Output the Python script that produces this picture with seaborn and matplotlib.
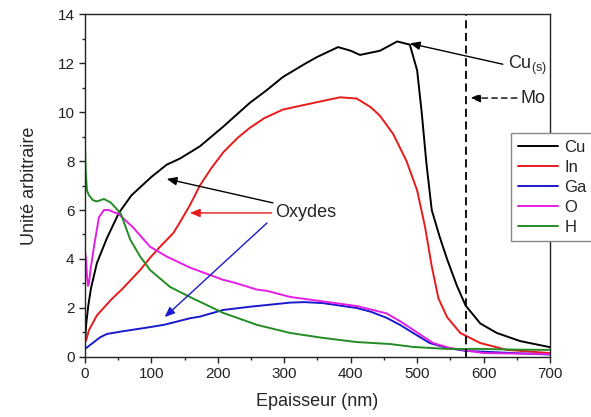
import matplotlib
matplotlib.use("Agg")
import matplotlib.pyplot as plt
import numpy as np
import pandas as pd
import seaborn as sns

# ---------------- data ----------------
cu_x = [0, 2, 5, 9, 18, 33, 51, 70, 90, 100, 123, 143, 173, 208, 248, 274, 298, 330, 349,
        381, 400, 414, 444, 470, 489, 500, 507, 514, 522, 534, 545, 560, 573, 595, 620, 655, 700]
cu_y = [0.6, 1.4, 2.1, 2.8, 3.84, 4.85, 5.88, 6.6, 7.1, 7.35, 7.85, 8.1, 8.6, 9.4, 10.37, 10.9,
        11.43, 11.95, 12.24, 12.65, 12.5, 12.33, 12.5, 12.88, 12.75, 11.7, 9.95, 7.9, 6.0, 4.9,
        4.0, 2.9, 2.1, 1.37, 0.98, 0.65, 0.4]

in_x = [0, 2, 6, 18, 39, 57, 83, 98, 113, 133, 143, 158, 173, 190, 208, 230, 248, 270, 298, 349,
        384, 409, 430, 444, 464, 484, 500, 512, 522, 532, 545, 565, 595, 635, 700]
in_y = [0.6, 0.7, 1.1, 1.7, 2.33, 2.8, 3.55, 4.05, 4.5, 5.06, 5.5, 6.2, 7.0, 7.7, 8.35, 8.95,
        9.35, 9.75, 10.1, 10.4, 10.6, 10.55, 10.2, 9.85, 9.1, 8.0, 6.8, 5.3, 3.7, 2.4, 1.63, 0.98,
        0.57, 0.29, 0.16]

ga_x = [0, 2, 13.5, 22.6, 33, 57, 98, 120, 158, 173, 208, 248, 309, 330, 358, 409, 430, 454,
        475, 494, 519, 545, 573, 645, 700]
ga_y = [0.35, 0.37, 0.61, 0.8, 0.94, 1.05, 1.22, 1.32, 1.58, 1.65, 1.92, 2.05, 2.22, 2.24, 2.2,
        2.0, 1.85, 1.6, 1.3, 0.98, 0.57, 0.37, 0.25, 0.16, 0.1]

o_x = [0, 1.5, 3, 4.5, 6, 8, 13.5, 21, 28.6, 36, 44, 50, 72, 98, 123, 158, 173, 208, 223, 259,
       274, 309, 358, 409, 454, 475, 499, 524, 549, 600, 700]
o_y = [4.3, 4.0, 3.3, 2.9, 3.0, 3.5, 4.5, 5.7, 6.0, 6.0, 5.9, 5.85, 5.3, 4.5, 4.1, 3.65, 3.5,
       3.15, 3.05, 2.75, 2.7, 2.45, 2.27, 2.08, 1.78, 1.45, 1.02, 0.57, 0.37, 0.16, 0.12]

h_x = [0, 1, 3, 6, 12, 18, 28.6, 39, 54, 68, 83, 90, 98, 128, 158, 208, 259, 309, 358, 409,
       459, 494, 545, 595, 650, 700]
h_y = [8.7, 7.6, 6.8, 6.6, 6.4, 6.35, 6.45, 6.3, 5.85, 4.8, 4.1, 3.85, 3.55, 2.86, 2.45, 1.8,
       1.31, 0.98, 0.78, 0.61, 0.53, 0.41, 0.33, 0.33, 0.3, 0.29]

elements = ["Cu", "In", "Ga", "O", "H"]
colors = ["#000000", "#e81a1a", "#1a1acc", "#e61ee6", "#248c24"]
mo_position = 573

x_ticks = [0, 100, 200, 300, 400, 500, 600, 700]
y_ticks = [0, 2, 4, 6, 8, 10, 12, 14]

# ---------------- figure ----------------
sns.set_style("ticks")
plt.rcParams["font.family"] = ["Liberation Sans", "DejaVu Sans"]
plt.rcParams["mathtext.default"] = "regular"

frames = []
for name, xs, ys in zip(elements, [cu_x, in_x, ga_x, o_x, h_x], [cu_y, in_y, ga_y, o_y, h_y]):
    frames.append(pd.DataFrame({"element": name, "x": xs, "y": ys}))
df = pd.concat(frames, ignore_index=True)

fig = plt.figure(figsize=(5.91, 4.17), dpi=100)
ax = fig.add_axes([0.1438, 0.1439, 0.7868, 0.8225])

sns.lineplot(data=df, x="x", y="y", hue="element", hue_order=elements,
             palette=dict(zip(elements, colors)), sort=False, estimator=None,
             legend=False, linewidth=1.4, ax=ax)

ax.axvline(mo_position, color="black", lw=1.3, ls=(0, (4.5, 2.5)))

ax.set_xlim(0, 700)
ax.set_ylim(0, 14)
ax.set_xticks(x_ticks)
ax.set_yticks(y_ticks)
ax.set_xticks(np.arange(50, 700, 100), minor=True)
ax.set_yticks(np.arange(1, 14, 2), minor=True)
ax.tick_params(which="major", direction="out", length=4, width=1, labelsize=11, colors="#222222")
ax.tick_params(which="minor", direction="out", length=2.5, width=1, colors="#222222")
for s in ax.spines.values():
    s.set_visible(True)
    s.set_linewidth(1.0)
    s.set_color("#222222")

ax.set_xlabel("Epaisseur (nm)", fontsize=13, labelpad=8)
ax.set_ylabel("Unité arbitraire", fontsize=13, labelpad=14)

# legend
handles = ax.get_lines()[:5]
leg = ax.legend(handles, elements, loc="upper left", bbox_to_anchor=(0.916, 0.653),
                borderaxespad=0, fontsize=12, frameon=True, fancybox=False,
                edgecolor="#888888", framealpha=1, handlelength=2.4, handletextpad=0.4,
                labelspacing=0.3, borderpad=0.4)
leg.get_frame().set_linewidth(1.0)

# annotations
head = "-|>,head_length=0.6,head_width=0.25"
ax.annotate("", xy=(489, 12.8), xytext=(629, 11.95),
            arrowprops=dict(arrowstyle=head, color="black", lw=1, mutation_scale=10,
                            shrinkA=0, shrinkB=0))
ax.text(637, 11.75, r"Cu$_{(s)}$", fontsize=13, ha="left", va="baseline")

ax.annotate("", xy=(580, 10.57), xytext=(650, 10.57),
            arrowprops=dict(arrowstyle=head, color="black", lw=1, ls=(0, (4, 3)),
                            mutation_scale=10, shrinkA=0, shrinkB=0))
ax.text(655, 10.57, "Mo", fontsize=13, ha="left", va="center")

ax.text(286, 5.88, "Oxydes", fontsize=13, ha="left", va="center")
for tail, tip, c in [((283, 6.29), (123, 7.27), "black"),
                     ((281, 5.88), (158, 5.88), colors[1]),
                     ((274, 5.47), (120, 1.63), colors[2])]:
    ax.annotate("", xy=tip, xytext=tail,
                arrowprops=dict(arrowstyle=head, color=c, lw=1, mutation_scale=10,
                                shrinkA=0, shrinkB=0))

fig.savefig("out.png", dpi=100)
